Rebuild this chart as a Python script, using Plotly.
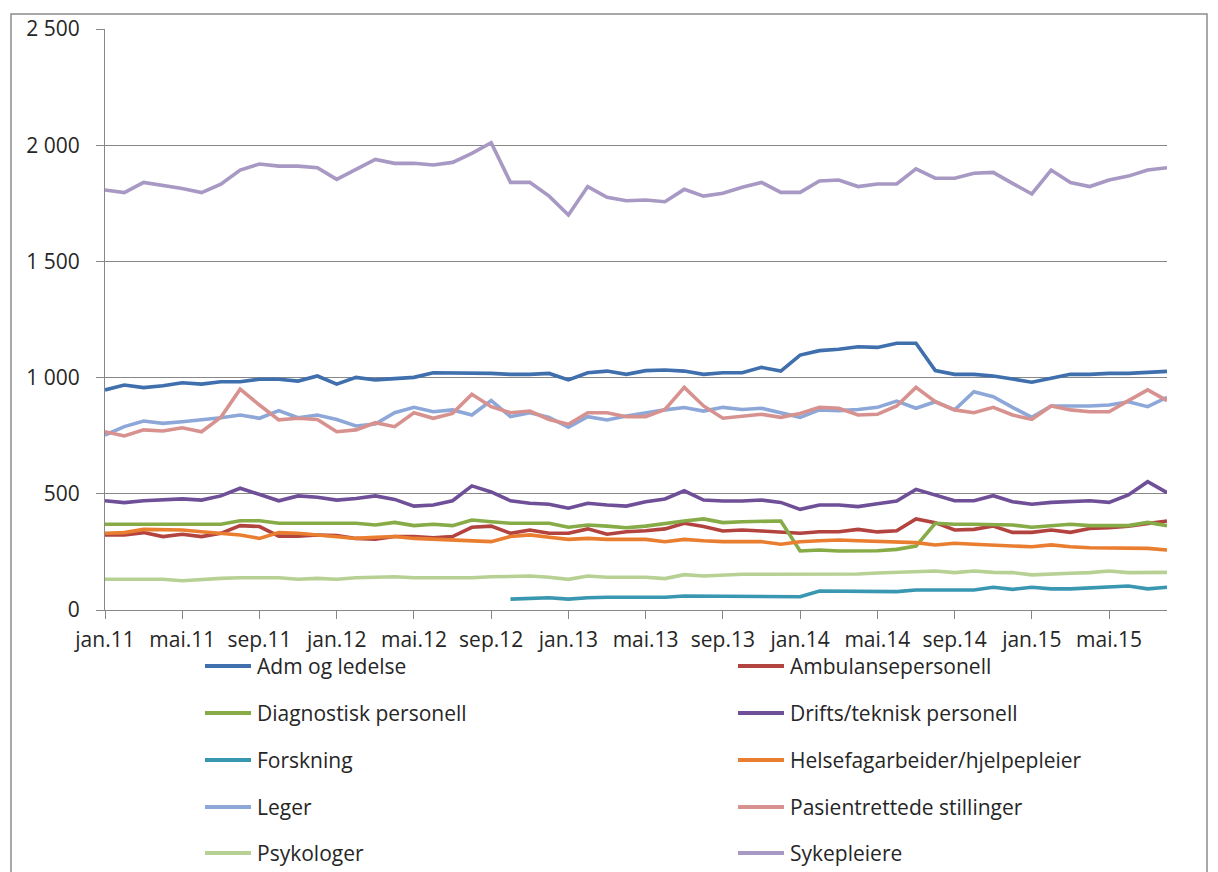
import plotly.graph_objects as go

months = ["jan.11","feb.11","mar.11","apr.11","mai.11","jun.11","jul.11","aug.11","sep.11","okt.11","nov.11","des.11",
          "jan.12","feb.12","mar.12","apr.12","mai.12","jun.12","jul.12","aug.12","sep.12","okt.12","nov.12","des.12",
          "jan.13","feb.13","mar.13","apr.13","mai.13","jun.13","jul.13","aug.13","sep.13","okt.13","nov.13","des.13",
          "jan.14","feb.14","mar.14","apr.14","mai.14","jun.14","jul.14","aug.14","sep.14","okt.14","nov.14","des.14",
          "jan.15","feb.15","mar.15","apr.15","mai.15","jun.15","jul.15","aug.15"]
x_ticks = ["jan.11","mai.11","sep.11","jan.12","mai.12","sep.12","jan.13","mai.13","sep.13",
           "jan.14","mai.14","sep.14","jan.15","mai.15"]
y_tickvals = [0, 500, 1000, 1500, 2000, 2500]
y_ticktext = ["0", "500", "1 000", "1 500", "2 000", "2 500"]

adm = [947,968,957,965,978,972,982,982,993,993,985,1007,972,1001,990,994,1001,1021,1021,1018,
       1018,1014,1014,1018,990,1021,1028,1014,1030,1033,1028,1014,1021,1021,1044,1028,1097,1116,1122,1133,
       1130,1148,1148,1030,1014,1014,1007,994,980,997,1014,1014,1018,1018,1023,1027]
ambulanse = [323,323,333,316,326,316,330,363,359,318,318,323,320,308,305,316,316,311,316,356,
             361,330,344,330,330,349,326,337,341,349,373,359,340,344,340,334,330,337,337,347,
             336,341,392,376,344,347,361,334,334,344,334,351,354,361,373,383]
diagnostisk = [369,369,369,369,369,369,369,384,384,373,373,373,373,373,366,377,363,369,363,387,
               380,373,373,373,356,366,361,354,361,373,383,392,376,380,383,383,254,258,254,254,
               255,261,275,373,369,369,369,366,356,363,369,363,363,363,377,363]
drifts = [470,462,470,473,478,473,491,524,499,470,491,485,473,480,491,476,447,452,470,534,
          508,470,459,455,438,459,452,447,466,478,513,473,469,469,473,463,433,452,452,445,
          457,469,519,495,470,470,492,466,455,463,466,470,463,495,552,505]
forskning = [None]*21 + [47,50,53,47,53,55,55,55,55,60,60,60,60,60,60,57,82,82,82,
             80,79,86,86,86,86,98,89,98,91,91,96,98,103,91,98]
helsefag = [330,333,347,344,344,337,330,323,308,333,330,323,313,308,313,316,308,304,301,297,
            294,316,323,313,304,308,304,304,304,294,304,298,294,294,294,283,294,298,301,298,
            295,294,290,280,287,283,280,275,272,280,272,268,268,265,265,258]
leger = [753,789,813,803,810,818,827,839,825,858,827,839,820,792,800,849,872,853,861,839,
         901,832,849,829,786,832,818,835,849,861,871,856,872,863,868,849,829,861,858,863,
         872,899,868,896,861,939,918,872,829,878,878,878,882,896,875,915]
pasient = [767,749,775,770,784,767,829,950,882,818,825,820,767,775,806,789,849,825,846,928,
           875,849,856,820,799,849,849,832,832,863,958,878,825,835,842,829,846,872,868,839,
           842,878,958,896,861,849,872,839,820,878,861,853,853,901,947,901]
psykologer = [132,132,132,132,126,132,136,139,139,139,132,136,132,139,141,143,139,139,139,139,
              143,143,146,141,132,146,141,141,141,135,152,146,151,154,154,154,154,154,154,155,
              159,162,162,168,161,168,162,161,151,156,158,161,168,161,161,162]
sykepleiere = [1807,1796,1840,1826,1814,1796,1832,1893,1919,1910,1910,1903,1853,1896,1939,1922,1922,1915,1926,1965,
               2011,1840,1840,1781,1700,1822,1776,1761,1764,1757,1810,1781,1793,1819,1840,1797,1797,1846,1850,1822,
               1833,1833,1898,1858,1858,1879,1883,1836,1790,1893,1839,1822,1850,1867,1893,1903]

names = ["Adm og ledelse", "Ambulansepersonell", "Diagnostisk personell", "Drifts/teknisk personell",
         "Forskning", "Helsefagarbeider/hjelpepleier", "Leger", "Pasientrettede stillinger",
         "Psykologer", "Sykepleiere"]
series = [adm, ambulanse, diagnostisk, drifts, forskning, helsefag, leger, pasient, psykologer, sykepleiere]
colors = ["#3F6FAD", "#B3433F", "#86AB47", "#6F4F97", "#3A97B1", "#EA7E30",
          "#8DA8D8", "#D79290", "#B7D195", "#A799C4"]

W, H = 1218, 872
L, R, T, B = 105, 51, 29, 262
pw, ph = W - L - R, H - T - B
def px(x): return (x - L) / pw
def py(y): return (H - B - y) / ph

FONT = "Open Sans"
TXT = "#262626"
GRID = "#878787"

fig = go.Figure()
for name, vals, col in zip(names, series, colors):
    fig.add_trace(go.Scatter(x=months, y=vals, mode="lines", name=name,
                             line=dict(color=col, width=3.6), showlegend=False))

shapes = []
annotations = []
# manual two-column legend
rows_y = [666, 713, 760, 807, 853]
for i, (name, col) in enumerate(zip(names, colors)):
    r, c = divmod(i, 2)
    x0 = 205 if c == 0 else 738
    yy = rows_y[r]
    shapes.append(dict(type="line", xref="paper", yref="paper",
                       x0=px(x0), x1=px(x0 + 46), y0=py(yy), y1=py(yy),
                       line=dict(color=col, width=4)))
    annotations.append(dict(xref="paper", yref="paper", x=px(x0 + 50), y=py(yy),
                            text=name, showarrow=False, xanchor="left", yanchor="middle",
                            font=dict(family=FONT, size=21, color=TXT)))
# outer chart border
shapes.append(dict(type="rect", xref="paper", yref="paper",
                   x0=px(11), x1=px(1207), y0=py(900), y1=py(14),
                   line=dict(color="#8c8c8c", width=1.5), fillcolor="rgba(0,0,0,0)", layer="below"))

fig.update_layout(
    width=W, height=H,
    margin=dict(l=L, r=R, t=T, b=B, pad=0),
    paper_bgcolor="white", plot_bgcolor="white",
    font=dict(family=FONT, size=21, color=TXT),
    shapes=shapes, annotations=annotations,
    xaxis=dict(type="category", categoryorder="array", categoryarray=months,
               range=[0, len(months) - 1], tickvals=x_ticks, ticktext=x_ticks,
               showgrid=False, showline=True, linecolor=GRID, linewidth=1,
               ticks="outside", ticklen=8, tickcolor=GRID, tickwidth=1,
               ticklabelstandoff=3, automargin=False, zeroline=False,
               tickfont=dict(family=FONT, size=21, color=TXT)),
    yaxis=dict(range=[0, 2500], tickvals=y_tickvals, ticktext=y_ticktext,
               showgrid=True, gridcolor=GRID, gridwidth=1,
               showline=True, linecolor=GRID, linewidth=1,
               ticks="outside", ticklen=8, tickcolor=GRID, tickwidth=1,
               ticklabelstandoff=12, automargin=False, zeroline=False,
               tickfont=dict(family=FONT, size=21, color=TXT)),
)

fig.write_html("out.html")
